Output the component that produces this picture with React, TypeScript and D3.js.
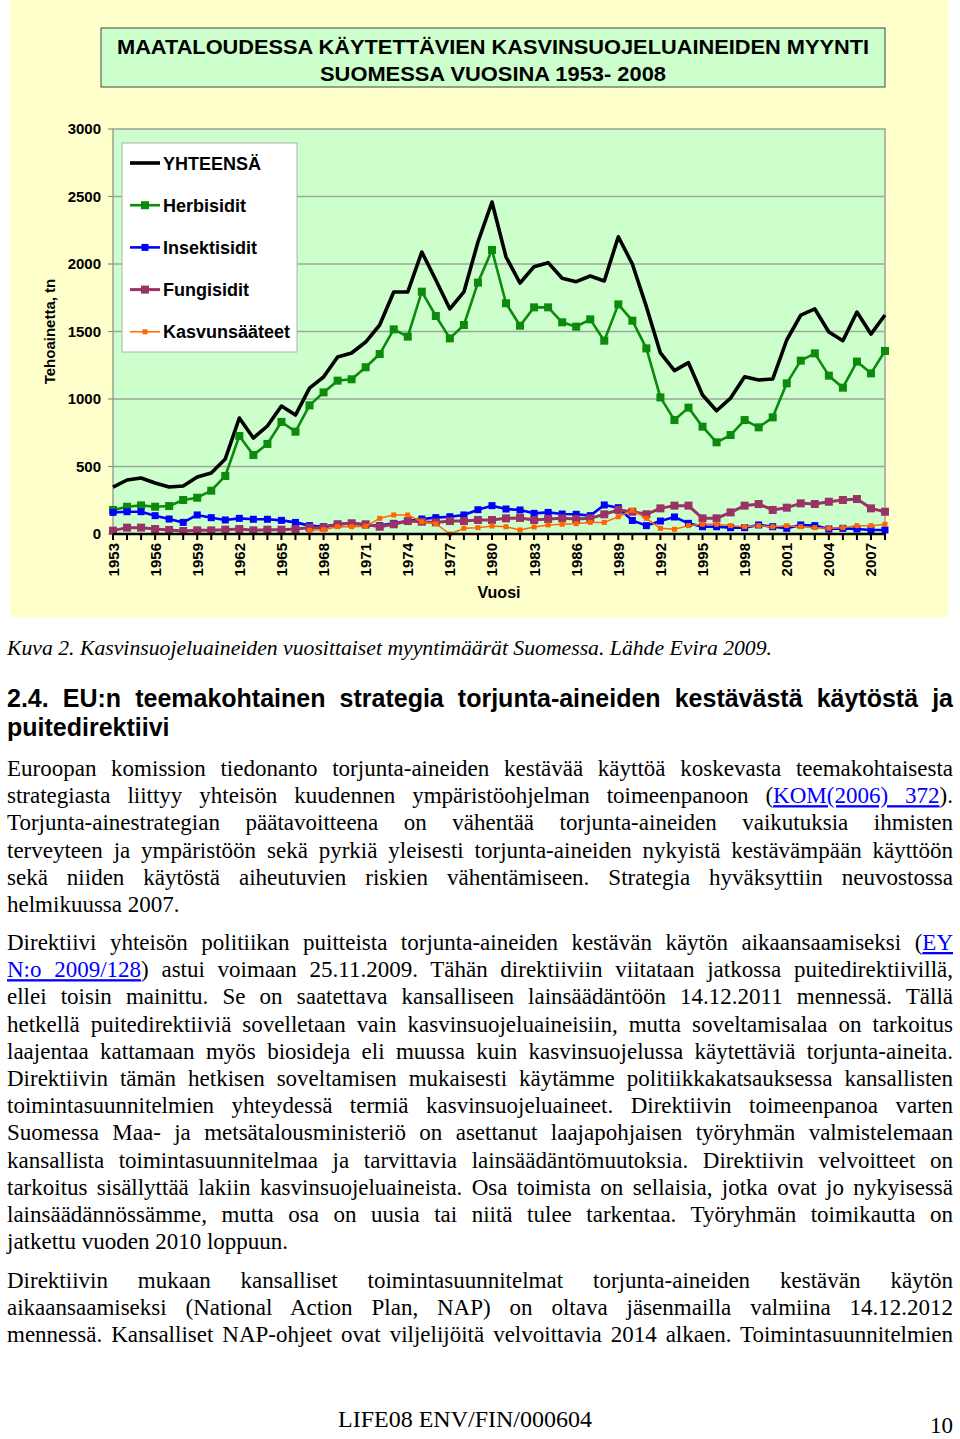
import React, { useEffect, useRef } from 'react';
import * as d3 from 'd3';

// vuodet 1953-2008
const YEARS = d3.range(1953, 2009);
const X_TICKS = d3.range(1953, 2008, 3);
const Y_TICKS = [0, 500, 1000, 1500, 2000, 2500, 3000];

const TOTAL = [348, 400, 415, 378, 348, 356, 422, 452, 556, 859, 711, 800, 948, 881, 1081, 1163, 1311, 1341, 1422, 1548, 1793, 1793, 2089, 1881, 1667, 1793, 2163, 2459, 2052, 1859, 1980, 2010, 1895, 1869, 1911, 1874, 2202, 2000, 1684, 1341, 1210, 1269, 1030, 913, 1007, 1165, 1141, 1148, 1437, 1622, 1667, 1496, 1432, 1644, 1481, 1622];
const HERB = [178, 202, 212, 202, 207, 252, 269, 321, 430, 726, 585, 667, 830, 758, 953, 1049, 1136, 1146, 1235, 1333, 1516, 1462, 1795, 1615, 1449, 1548, 1862, 2104, 1709, 1543, 1679, 1679, 1568, 1536, 1590, 1432, 1701, 1580, 1375, 1012, 844, 936, 795, 679, 733, 844, 790, 864, 1116, 1284, 1338, 1173, 1084, 1277, 1190, 1356];
const INSECT = [160, 165, 165, 136, 111, 86, 141, 121, 104, 116, 109, 109, 101, 86, 62, 54, 72, 79, 67, 62, 79, 96, 111, 121, 128, 141, 180, 210, 185, 178, 153, 160, 148, 146, 136, 215, 195, 100, 62, 96, 126, 79, 54, 54, 47, 47, 67, 54, 42, 67, 62, 37, 42, 37, 30, 30];
const FUNG = [25, 47, 47, 37, 30, 22, 27, 27, 32, 37, 27, 32, 32, 37, 47, 49, 72, 79, 72, 54, 72, 96, 91, 86, 96, 96, 104, 104, 116, 119, 104, 111, 116, 111, 116, 146, 178, 165, 146, 190, 210, 210, 116, 116, 160, 210, 222, 178, 195, 227, 222, 239, 252, 259, 190, 165];
const GROWTH: (number | null)[] = [null, null, null, null, null, null, null, null, null, null, null, null, null, null, 27, 32, 54, 54, 57, 116, 141, 141, 91, 76, 0, 42, 47, 59, 54, 30, 52, 67, 72, 76, 86, 86, 128, 175, 116, 42, 35, 62, 72, 72, 62, 54, 62, 54, 62, 54, 47, 42, 47, 62, 62, 72];

const SERIES_NAMES = ['YHTEENSÄ', 'Herbisidit', 'Insektisidit', 'Fungisidit', 'Kasvunsääteet'];
const SERIES_VALUES = [TOTAL, HERB, INSECT, FUNG, GROWTH];

const CHART_TITLE = ['MAATALOUDESSA KÄYTETTÄVIEN KASVINSUOJELUAINEIDEN MYYNTI', 'SUOMESSA VUOSINA 1953- 2008'];
const Y_TITLE = 'Tehoainetta, tn';
const X_TITLE = 'Vuosi';

const CAPTION = 'Kuva 2. Kasvinsuojeluaineiden vuosittaiset myyntimäärät  Suomessa. Lähde Evira 2009.';
const HEADING = ['2.4. EU:n teemakohtainen strategia torjunta-aineiden kestävästä käytöstä ja', 'puitedirektiivi'];
const PARA1 = [
  'Euroopan komission tiedonanto torjunta-aineiden kestävää käyttöä koskevasta teemakohtaisesta',
  'strategiasta liittyy yhteisön kuudennen ympäristöohjelman toimeenpanoon ({KOM(2006) 372}).',
  'Torjunta-ainestrategian päätavoitteena on vähentää torjunta-aineiden vaikutuksia ihmisten',
  'terveyteen ja ympäristöön sekä pyrkiä yleisesti torjunta-aineiden nykyistä kestävämpään käyttöön',
  'sekä niiden käytöstä aiheutuvien riskien vähentämiseen. Strategia hyväksyttiin neuvostossa',
  'helmikuussa 2007.',
];
const PARA2 = [
  'Direktiivi yhteisön politiikan puitteista torjunta-aineiden kestävän käytön aikaansaamiseksi ({EY}',
  '{N:o 2009/128}) astui voimaan 25.11.2009. Tähän direktiiviin viitataan jatkossa puitedirektiivillä,',
  'ellei toisin mainittu. Se on saatettava kansalliseen lainsäädäntöön 14.12.2011 mennessä. Tällä',
  'hetkellä puitedirektiiviä sovelletaan vain kasvinsuojeluaineisiin, mutta soveltamisalaa on tarkoitus',
  'laajentaa kattamaan myös biosideja eli muussa kuin kasvinsuojelussa käytettäviä torjunta-aineita.',
  'Direktiivin tämän hetkisen soveltamisen mukaisesti käytämme politiikkakatsauksessa kansallisten',
  'toimintasuunnitelmien yhteydessä termiä kasvinsuojeluaineet. Direktiivin toimeenpanoa varten',
  'Suomessa Maa- ja metsätalousministeriö on asettanut laajapohjaisen työryhmän valmistelemaan',
  'kansallista toimintasuunnitelmaa ja tarvittavia lainsäädäntömuutoksia. Direktiivin velvoitteet on',
  'tarkoitus sisällyttää lakiin kasvinsuojeluaineista. Osa toimista on sellaisia, jotka ovat jo nykyisessä',
  'lainsäädännössämme, mutta osa on uusia tai niitä tulee tarkentaa. Työryhmän toimikautta on',
  'jatkettu vuoden 2010 loppuun.',
];
const PARA3 = [
  'Direktiivin mukaan kansalliset toimintasuunnitelmat torjunta-aineiden kestävän käytön',
  'aikaansaamiseksi (National Action Plan, NAP) on oltava jäsenmailla valmiina 14.12.2012',
  'mennessä. Kansalliset NAP-ohjeet ovat viljelijöitä velvoittavia 2014 alkaen. Toimintasuunnitelmien',
];
const FOOTER = 'LIFE08 ENV/FIN/000604';
const PAGE_NO = '10';

const STYLES = [
  { color: '#000000', width: 3.6, marker: 0 },
  { color: '#0b8a0b', width: 2.6, marker: 8 },
  { color: '#0000ff', width: 2.6, marker: 7 },
  { color: '#993366', width: 3, marker: 8 },
  { color: '#ff6600', width: 1.5, marker: 5 },
];

const SANS = '"Liberation Sans", Arial, sans-serif';
const SERIF = '"Liberation Serif", "Times New Roman", serif';

const Segs = ({ line }: { line: string }) => (
  <>
    {line.split(/[{}]/).map((s, i) =>
      i % 2 === 1 ? (
        <tspan key={i} fill="#0000ff" textDecoration="underline">{s}</tspan>
      ) : (
        <tspan key={i}>{s}</tspan>
      )
    )}
  </>
);

export default function App() {
  const ref = useRef<SVGSVGElement>(null);

  const x = d3.scaleLinear().domain([1953, 2008]).range([113, 885]);
  const y = d3.scaleLinear().domain([0, 3000]).range([534, 129]);
  const line = d3
    .line<number | null>()
    .defined((d) => d != null)
    .x((_, i) => x(YEARS[i]))
    .y((d) => y(d as number));

  useEffect(() => {
    if (!ref.current) return;
    d3.select(ref.current)
      .selectAll<SVGTextElement, unknown>('text.just')
      .each(function () {
        const target = +(this.getAttribute('data-w') || 0);
        const w = this.getComputedTextLength();
        const spaces = (this.textContent || '').trim().split(/\s+/).length - 1;
        if (!spaces) return;
        const ws = (target - w) / spaces;
        if (ws >= 0) this.setAttribute('word-spacing', String(ws));
        else {
          this.setAttribute('textLength', String(target));
          this.setAttribute('lengthAdjust', 'spacingAndGlyphs');
        }
      });
  }, []);

  const textW = 946;
  const lh = 27.2;
  const paragraphs = [
    { lines: PARA1, top: 776, justifyLast: false },
    { lines: PARA2, top: 950, justifyLast: false },
    { lines: PARA3, top: 1288, justifyLast: true },
  ];

  return (
    <svg ref={ref} width={960} height={1439} style={{ position: 'absolute', left: 0, top: 0, background: '#fff' }}>
      {/* kaavion tausta */}
      <rect x={10} y={0} width={938} height={617} fill="#ffffcc" />
      <rect x={101} y={28} width={784} height={59} fill="#ccffcc" stroke="#444" strokeWidth={1} />
      {CHART_TITLE.map((t, i) => (
        <text key={t} x={493} y={54 + i * 27} textAnchor="middle" fontFamily={SANS} fontWeight="bold" fontSize={20}
          textLength={i === 0 ? 752 : 346} lengthAdjust="spacingAndGlyphs">{t}</text>
      ))}

      <rect x={113} y={129} width={772} height={405} fill="#ccffcc" stroke="#8a8a8a" strokeWidth={1.2} />
      {Y_TICKS.filter((t) => t > 0 && t < 3000).map((t) => (
        <line key={t} x1={113} x2={885} y1={y(t)} y2={y(t)} stroke="#9aa89a" strokeWidth={1.3} />
      ))}
      {Y_TICKS.map((t) => (
        <g key={t}>
          <line x1={108} x2={113} y1={y(t)} y2={y(t)} stroke="#8a8a8a" strokeWidth={1.2} />
          <text x={101} y={y(t) + 5} textAnchor="end" fontFamily={SANS} fontWeight="bold" fontSize={15}>{t}</text>
        </g>
      ))}
      <text transform={`translate(55,${y(1500)}) rotate(-90)`} textAnchor="middle" fontFamily={SANS} fontWeight="bold" fontSize={15}>{Y_TITLE}</text>

      {SERIES_VALUES.map((vals, si) => (
        <g key={SERIES_NAMES[si]}>
          <path d={line(vals) || ''} fill="none" stroke={STYLES[si].color} strokeWidth={STYLES[si].width} strokeLinejoin="round" />
          {STYLES[si].marker > 0 &&
            vals.map((v, i) =>
              v == null ? null : (
                <rect key={i} x={x(YEARS[i]) - STYLES[si].marker / 2} y={y(v) - STYLES[si].marker / 2}
                  width={STYLES[si].marker} height={STYLES[si].marker} fill={STYLES[si].color} />
              )
            )}
        </g>
      ))}

      {/* x-akseli */}
      <line x1={113} x2={886} y1={534} y2={534} stroke="#000" strokeWidth={2.6} />
      {YEARS.map((yr) => (
        <line key={yr} x1={x(yr)} x2={x(yr)} y1={534} y2={540} stroke="#000" strokeWidth={2} />
      ))}
      {X_TICKS.map((yr) => (
        <text key={yr} transform={`translate(${x(yr) + 5.5},543) rotate(-90)`} textAnchor="end" fontFamily={SANS} fontWeight="bold" fontSize={15}>{yr}</text>
      ))}
      <text x={499} y={598} textAnchor="middle" fontFamily={SANS} fontWeight="bold" fontSize={16}>{X_TITLE}</text>

      {/* selite */}
      <rect x={122} y={143} width={175} height={209} fill="#fff" stroke="#b0b0b0" strokeWidth={1} />
      {SERIES_NAMES.map((n, i) => {
        const cy = 163 + i * 42.2;
        const st = STYLES[i];
        return (
          <g key={n}>
            <line x1={130} x2={160} y1={cy} y2={cy} stroke={st.color} strokeWidth={st.width} />
            {st.marker > 0 && (
              <rect x={145 - st.marker / 2} y={cy - st.marker / 2} width={st.marker} height={st.marker} fill={st.color} />
            )}
            <text x={163} y={cy + 6.5} fontFamily={SANS} fontWeight="bold" fontSize={18}>{n}</text>
          </g>
        );
      })}

      {/* leipäteksti */}
      <text x={7} y={655} fontFamily={SERIF} fontStyle="italic" fontSize={21} textLength={765} lengthAdjust="spacingAndGlyphs">{CAPTION}</text>
      <text className="just" data-w={textW} x={7} y={707} fontFamily={SANS} fontWeight="bold" fontSize={25}>{HEADING[0]}</text>
      <text x={7} y={736} fontFamily={SANS} fontWeight="bold" fontSize={25}>{HEADING[1]}</text>

      {paragraphs.map((p, pi) =>
        p.lines.map((l, li) => {
          const just = li < p.lines.length - 1 || p.justifyLast;
          return (
            <text key={`${pi}-${li}`} className={just ? 'just' : undefined} data-w={textW} x={7} y={p.top + li * lh}
              fontFamily={SERIF} fontSize={23}>
              <Segs line={l} />
            </text>
          );
        })
      )}

      <text x={338} y={1427} fontFamily={SERIF} fontSize={24}>{FOOTER}</text>
      <text x={953} y={1433} textAnchor="end" fontFamily={SERIF} fontSize={23}>{PAGE_NO}</text>
    </svg>
  );
}
